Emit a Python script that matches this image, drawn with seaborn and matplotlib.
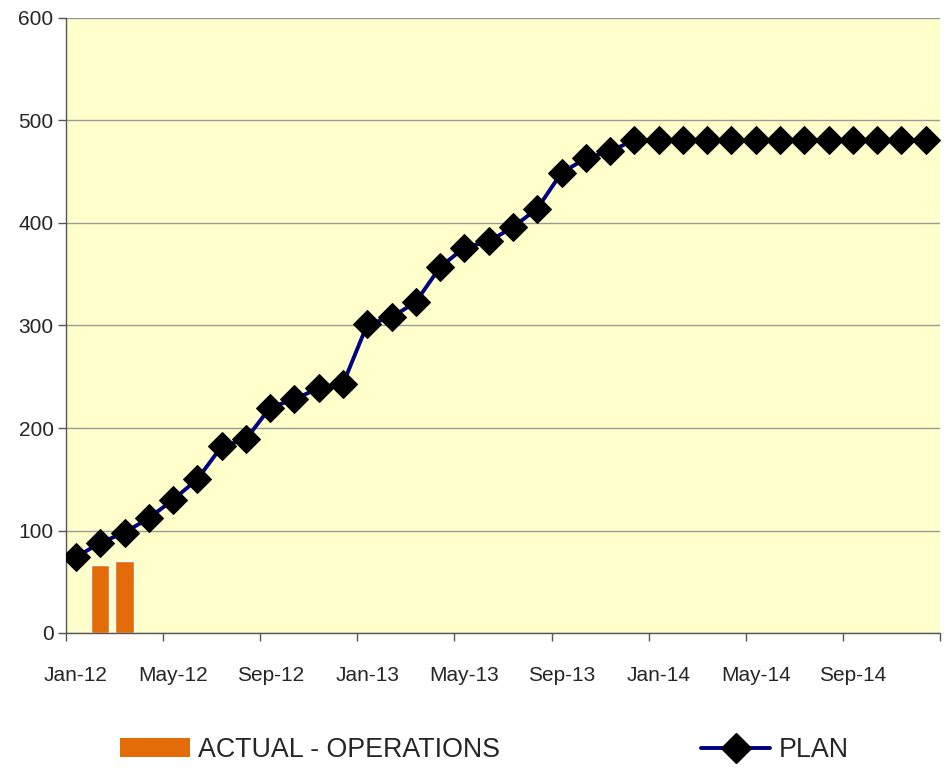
import matplotlib
matplotlib.use("Agg")
import matplotlib.pyplot as plt
import seaborn as sns
import numpy as np
import pandas as pd
from matplotlib.patches import Patch
from matplotlib.lines import Line2D

months = ["Jan-12","Feb-12","Mar-12","Apr-12","May-12","Jun-12","Jul-12","Aug-12","Sep-12","Oct-12","Nov-12","Dec-12",
          "Jan-13","Feb-13","Mar-13","Apr-13","May-13","Jun-13","Jul-13","Aug-13","Sep-13","Oct-13","Nov-13","Dec-13",
          "Jan-14","Feb-14","Mar-14","Apr-14","May-14","Jun-14","Jul-14","Aug-14","Sep-14","Oct-14","Nov-14","Dec-14"]
plan = [74, 88, 98, 112, 130, 150, 182, 189, 220, 228, 239, 243,
        301, 308, 323, 357, 376, 382, 396, 414, 449, 463, 470, 481,
        481, 481, 481, 481, 481, 481, 481, 481, 481, 481, 481, 481]
actual_months = ["Feb-12", "Mar-12"]
actual = [66, 70]
tick_labels = ["Jan-12","May-12","Sep-12","Jan-13","May-13","Sep-13","Jan-14","May-14","Sep-14"]

sns.set_theme(style="white")
plt.rcParams['font.family'] = ['Liberation Sans', 'DejaVu Sans']

fig = plt.figure(figsize=(9.48, 7.68), dpi=100)
ax = fig.add_axes([66/948, 1-633/768, (940-66)/948, (633-18)/768])
ax.set_facecolor("#FFFFCC")

idx = {m: i for i, m in enumerate(months)}
df_plan = pd.DataFrame({"x": np.arange(len(months)), "y": plan})
df_act = pd.DataFrame({"x": [idx[m] for m in actual_months], "y": actual})

sns.barplot(data=df_act, x="x", y="y", native_scale=True, width=0.75,
            color="#E36C09", saturation=1, ax=ax, zorder=2)
sns.lineplot(data=df_plan, x="x", y="y", color="#000080", lw=2.8, marker="D",
             markersize=14.5, markerfacecolor="black", markeredgecolor="black", ax=ax, zorder=3)

ax.set_xlim(-0.41, 35.45)
ax.set_ylim(0, 600)
ax.set_yticks(range(0, 601, 100))
ax.yaxis.grid(True, color="#999999", lw=1)
ax.set_axisbelow(True)
ax.set_xticks([idx[m] for m in tick_labels])
ax.set_xticklabels(tick_labels, fontsize=15)
ax.set_xticks(np.arange(-0.41, 36, 4), minor=True)
ax.tick_params(axis="x", which="major", length=0, pad=24)
ax.tick_params(axis="x", which="minor", length=6, width=1, color="#555555", direction="out", bottom=True)
ax.tick_params(axis="y", length=6, width=1, color="#555555", direction="out", left=True, labelsize=15, pad=3)
ax.set_xlabel("")
ax.set_ylabel("")
for s in ["top", "right"]:
    ax.spines[s].set_visible(False)
for s in ["left", "bottom"]:
    ax.spines[s].set_color("#555555")
    ax.spines[s].set_linewidth(1)
if ax.get_legend():
    ax.get_legend().remove()

handles = [Patch(facecolor="#E36C09", edgecolor="none"),
           Line2D([0], [0], color="#000080", lw=2.8, marker="D", markersize=15,
                  markerfacecolor="black", markeredgecolor="black")]
fig.legend(handles, ["ACTUAL - OPERATIONS", "PLAN"], loc="center left",
           bbox_to_anchor=(120/948, 1-750/768), ncol=2, frameon=False, fontsize=19.3,
           handlelength=2.6, handleheight=0.67, handletextpad=0.3, columnspacing=7.5,
           borderpad=0, borderaxespad=0)

fig.savefig("out.png", dpi=100)
